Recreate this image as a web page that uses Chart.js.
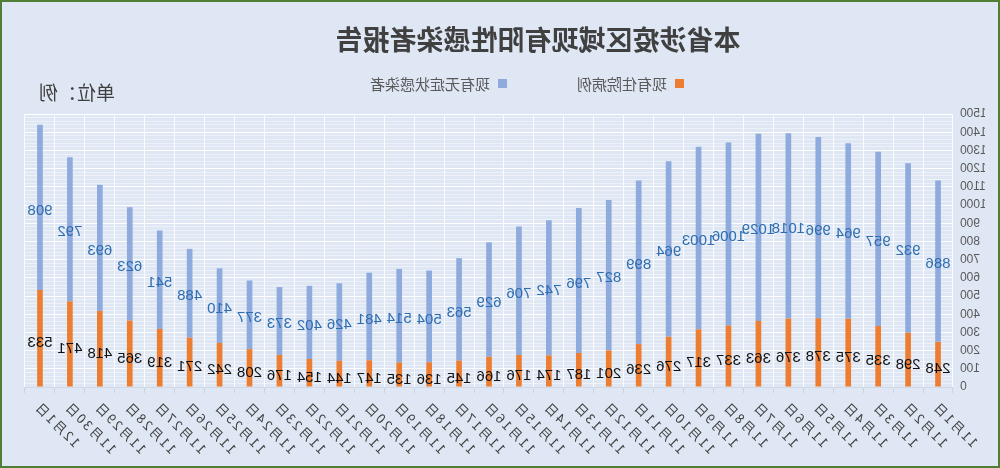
<!DOCTYPE html>
<html>
<head>
<meta charset="utf-8">
<script src="https://cdn.jsdelivr.net/npm/chart.js@4.4.1/dist/chart.umd.min.js"></script>
<style>
  html, body { margin: 0; padding: 0; background: #dee7f3; }
  #wrap {
    width: 1000px; height: 468px; box-sizing: border-box;
    border: 2px solid #4f7f35; background: #dee7f3;
    transform: scaleX(-1);
  }
  canvas { display: block; }
</style>
</head>
<body>
<div id="wrap"><canvas id="graphCanvas" width="996" height="464"></canvas></div>
<script>
const dates = ['11月1日', '11月2日', '11月3日', '11月4日', '11月5日', '11月6日', '11月7日', '11月8日',
    '11月9日', '11月10日', '11月11日', '11月12日', '11月13日', '11月14日', '11月15日', '11月16日',
    '11月17日', '11月18日', '11月19日', '11月20日', '11月21日', '11月22日', '11月23日', '11月24日',
    '11月25日', '11月26日', '11月27日', '11月28日', '11月29日', '11月30日', '12月1日'];

// 现有住院病例
const hospitalized = [248, 298, 335, 375, 378, 376, 363, 337, 317, 276, 236, 201, 187, 174, 176, 166,
    145, 136, 135, 147, 144, 154, 176, 208, 242, 271, 319, 365, 418, 471, 533];

// 现有无症状感染者
const asymptomatic = [886, 932, 957, 964, 996, 1018, 1029, 1006, 1003, 964, 899, 827, 796, 742, 706, 629,
    563, 504, 514, 481, 426, 402, 373, 377, 410, 488, 541, 623, 693, 792, 908];

const yMin = 0;
const yMax = 1500;

const titleText = '本省涉疫区域现有阳性感染者报告';
const unitText = '单位：例';

Chart.defaults.font.family = "'Noto Sans CJK SC', 'Liberation Sans', sans-serif";

// title, unit, legend, date labels and value labels
const decorPlugin = {
    id: 'decor',
    afterDraw(chart) {
        const c = chart.ctx;
        const area = chart.chartArea;
        c.save();
        c.fillStyle = '#404040';
        c.font = "bold 27px 'Noto Sans CJK SC'";
        c.textAlign = 'center';
        c.textBaseline = 'middle';
        c.fillText(titleText, 460, 38);

        c.font = "19px 'Noto Sans CJK SC'";
        c.textAlign = 'left';
        c.fillText(unitText, 883, 91);

        // legend
        c.font = "15px 'Noto Sans CJK SC'";
        let x = 314;
        chart.data.datasets.forEach(ds => {
            c.fillStyle = ds.backgroundColor;
            c.fillRect(x, 77, 9, 9);
            c.fillStyle = '#595959';
            c.fillText(ds.label, x + 17, 82);
            x += 17 + c.measureText(ds.label).width + 70;
        });

        // date labels, 45 degrees, ending at the tick
        const xs = chart.scales.x;
        const k = Math.SQRT1_2;
        c.font = "13px 'Noto Sans CJK SC'";
        c.letterSpacing = '2px';
        c.fillStyle = '#404040';
        c.textAlign = 'right';
        chart.data.labels.forEach((lab, i) => {
            c.save();
            c.transform(k, -k, k, k, xs.getPixelForTick(i) + 3, area.bottom + 17);
            c.fillText(lab, 0, 0);
            c.restore();
        });
        c.letterSpacing = '0px';

        // value labels
        c.font = "15px 'Liberation Sans'";
        c.textAlign = 'center';
        chart.data.datasets.forEach((ds, i) => {
            const meta = chart.getDatasetMeta(i);
            c.fillStyle = ds.labelColor;
            meta.data.forEach((bar, j) => {
                const y = (bar.y + bar.base) / 2 + ds.labelShift;
                c.fillText(String(ds.data[j]), bar.x, y);
            });
        });
        c.restore();
    }
};

new Chart(document.getElementById('graphCanvas').getContext('2d'), {
    type: 'bar',
    data: {
        labels: dates,
        datasets: [
            {
                label: '现有住院病例',
                data: hospitalized,
                backgroundColor: '#ed7d31',
                labelColor: '#111111',
                labelShift: 5,
                barPercentage: 0.19,
                categoryPercentage: 1
            },
            {
                label: '现有无症状感染者',
                data: asymptomatic,
                backgroundColor: '#8faadc',
                labelColor: '#2e6db0',
                labelShift: 3,
                barPercentage: 0.19,
                categoryPercentage: 1
            }
        ]
    },
    options: {
        responsive: false,
        animation: false,
        layout: { padding: { left: 13, right: 23, top: 112, bottom: 0 } },
        plugins: {
            legend: { display: false },
            title: { display: false },
            tooltip: { enabled: false }
        },
        scales: {
            x: {
                stacked: true,
                afterFit(scale) { scale.height = 79; },
                grid: {
                    color: 'rgba(255,255,255,0.85)',
                    tickColor: '#c9d3df',
                    tickLength: 6
                },
                border: { color: '#d0d9e4' },
                ticks: { display: false, autoSkip: false }
            },
            y: {
                stacked: true,
                min: yMin,
                max: yMax,
                afterFit(scale) { scale.width = 32; },
                border: { display: false },
                grid: {
                    drawTicks: false,
                    color: ctx => (ctx.tick && ctx.tick.value % 100 === 0)
                        ? 'rgba(255,255,255,1)' : 'rgba(255,255,255,0.45)'
                },
                ticks: {
                    stepSize: 20,
                    autoSkip: false,
                    padding: 7,
                    color: '#595959',
                    font: { size: 12, family: "'Liberation Sans'" },
                    callback: v => (v % 100 === 0 ? v : '')
                }
            }
        }
    },
    plugins: [decorPlugin]
});
</script>
</body>
</html>
